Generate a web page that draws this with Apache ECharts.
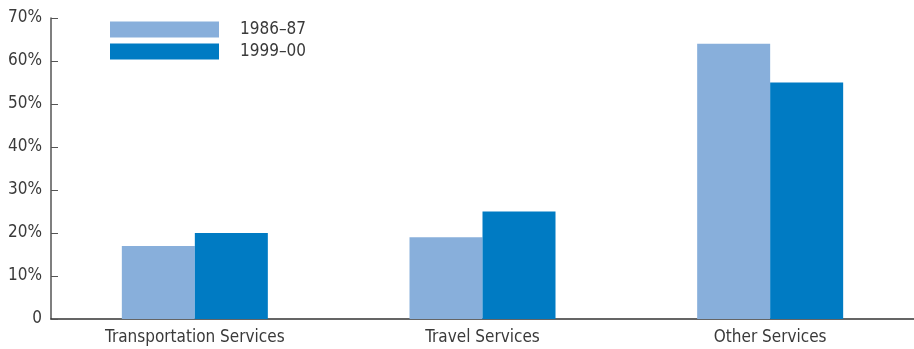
<!DOCTYPE html>
<html><head><meta charset="utf-8">
<script src="https://cdn.jsdelivr.net/npm/echarts@6/dist/echarts.min.js"></script>
<style>html,body{margin:0;padding:0;background:#fff}#c{width:914px;height:349px}</style>
</head><body><div id="c"></div>
<script>
const categories = ['Transportation Services', 'Travel Services', 'Other Services'];
const seriesNames = ['1986–87', '1999–00'];
const values1986 = [17, 19, 64];
const values1999 = [20, 25, 55];
const yTicks = [0, 10, 20, 30, 40, 50, 60, 70];

const font = '"Liberation Sans Narrow", "DejaVu Sans Condensed", sans-serif';
const chart = echarts.init(document.getElementById('c'));
chart.setOption({
  animation: false,
  textStyle: { fontFamily: font },
  grid: { left: 51, right: 0, top: 18, bottom: 30 },
  legend: {
    orient: 'vertical', left: 110, top: 21, padding: 0, itemWidth: 109, itemHeight: 16, itemGap: 5,
    icon: 'rect',
    textStyle: { fontFamily: font, fontSize: 17, color: '#3a3a3a', padding: [0, 0, 0, 16] },
    data: seriesNames
  },
  xAxis: {
    type: 'category', data: categories,
    axisLine: { lineStyle: { color: '#333', width: 1.5 } },
    axisTick: { inside: true, length: 7, lineStyle: { color: '#555' } },
    axisLabel: { fontFamily: font, fontSize: 17, color: '#3a3a3a', margin: 10 }
  },
  yAxis: {
    type: 'value', min: yTicks[0], max: yTicks[yTicks.length - 1], interval: 10,
    axisLine: { show: true, lineStyle: { color: '#555', width: 1.5 } },
    axisTick: { show: true, inside: true, length: 7, lineStyle: { color: '#555' } },
    splitLine: { show: false },
    axisLabel: { fontFamily: font, fontSize: 17, color: '#3a3a3a', margin: 9,
      formatter: v => v === 0 ? '0' : v + '%' }
  },
  series: [
    { name: seriesNames[0], type: 'bar', data: values1986, barWidth: 73, barGap: '0%',
      itemStyle: { color: '#88afdb' } },
    { name: seriesNames[1], type: 'bar', data: values1999, barWidth: 73, barGap: '0%',
      itemStyle: { color: '#007bc3' } }
  ]
});
</script></body></html>
